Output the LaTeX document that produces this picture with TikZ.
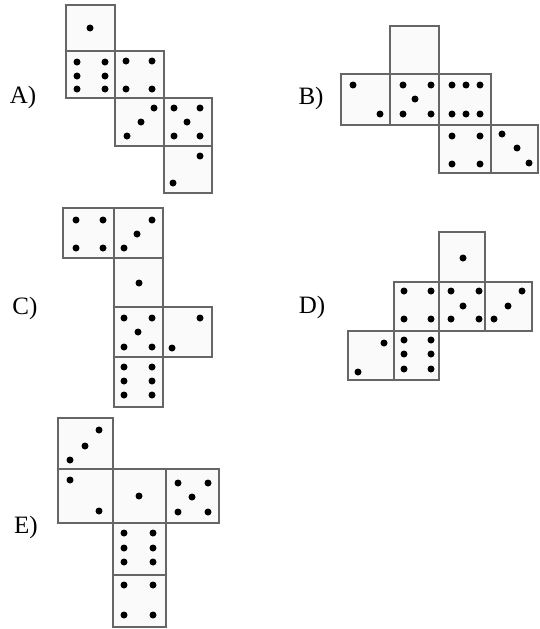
\documentclass[tikz,border=0pt]{standalone}
\usepackage{fontspec}
\setmainfont{Liberation Serif}
\begin{document}
\begin{tikzpicture}[x=1pt,y=-1pt,
		face/.style={draw=black!60,fill=black!2,line width=1.9},
		pip/.style={fill=black},
		lbl/.style={font=\fontsize{25}{27}\selectfont}]
			\useasboundingbox (0,0) rectangle (540,629);
			% A
			\draw [face] (66,5) rectangle (115,51);
			\draw [face] (66,51) rectangle (115,98);
			\draw [face] (115,51) rectangle (164,98);
			\draw [face] (115,98) rectangle (164,146);
			\draw [face] (164,98) rectangle (212,146);
			\draw [face] (164,146) rectangle (212,193);
			\foreach \p in {(90,28),
				(77,62),(105,62),(77,76),(105,76),(77,89),(105,89),
				(126,61),(152,61),(126,89),(152,89),
				(154,108),(141,122),(127,136),
				(174,108),(200,108),(187,122),(174,136),(200,136),
				(200,156),(173,183)}
				\fill [pip] \p circle (3.5);
			\node [lbl] (labA) at (23,97) {A)};
			% B
			\draw [face] (390,26) rectangle (439,74);
			\draw [face] (341,74) rectangle (390,125);
			\draw [face] (390,74) rectangle (439,125);
			\draw [face] (439,74) rectangle (491,125);
			\draw [face] (439,125) rectangle (491,173);
			\draw [face] (491,125) rectangle (538,173);
			\foreach \p in {(353,85),(380,114),
				(403,85),(431,85),(415,99),(403,114),(431,114),
				(452,85),(466,85),(480,85),(452,114),(466,114),(480,114),
				(452,136),(480,136),(452,164),(480,164),
				(502,134),(517,148),(529,163)}
				\fill [pip] \p circle (3.5);
			\node [lbl] (labB) at (311,98) {B)};
			% C
			\draw [face] (63,208) rectangle (114,258);
			\draw [face] (114,208) rectangle (163,258);
			\draw [face] (114,258) rectangle (163,307);
			\draw [face] (114,307) rectangle (163,357);
			\draw [face] (163,307) rectangle (212,357);
			\draw [face] (114,357) rectangle (163,407);
			\foreach \p in {(76,220),(103,220),(76,248),(103,248),
				(152,220),(137,234),(124,248),
				(139,283),
				(124,318),(152,318),(138,332),(124,347),(152,347),
				(200,318),(172,348),
				(124,367),(152,367),(124,381),(152,381),(124,395),(152,395)}
				\fill [pip] \p circle (3.5);
			\node [lbl] (labC) at (25,308) {C)};
			% D
			\draw [face] (439,232) rectangle (485,282);
			\draw [face] (394,282) rectangle (439,331);
			\draw [face] (439,282) rectangle (485,331);
			\draw [face] (485,282) rectangle (532,331);
			\draw [face] (348,331) rectangle (394,380);
			\draw [face] (394,331) rectangle (439,380);
			\foreach \p in {(463,258),
				(404,291),(431,291),(404,319),(431,319),
				(451,291),(479,291),(463,306),(451,319),(479,319),
				(522,291),(508,306),(494,319),
				(384,343),(358,372),
				(404,340),(431,340),(404,354),(431,354),(404,369),(431,369)}
				\fill [pip] \p circle (3.5);
			\node [lbl] (labD) at (312,307) {D)};
			% E
			\draw [face] (58,418) rectangle (113,469);
			\draw [face] (58,469) rectangle (113,523);
			\draw [face] (113,469) rectangle (166,523);
			\draw [face] (166,469) rectangle (219,523);
			\draw [face] (113,523) rectangle (166,575);
			\draw [face] (113,575) rectangle (166,627);
			\foreach \p in {(99,430),(85,446),(70,460),
				(70,480),(99,511),
				(139,496),
				(178,483),(208,483),(192,497),(178,512),(208,512),
				(124,533),(153,533),(124,548),(153,548),(124,562),(153,562),
				(124,585),(153,585),(124,615),(153,615)}
				\fill [pip] \p circle (3.5);
			\node [lbl] (labE) at (26,527) {E)};
		\end{tikzpicture}
\end{document}
